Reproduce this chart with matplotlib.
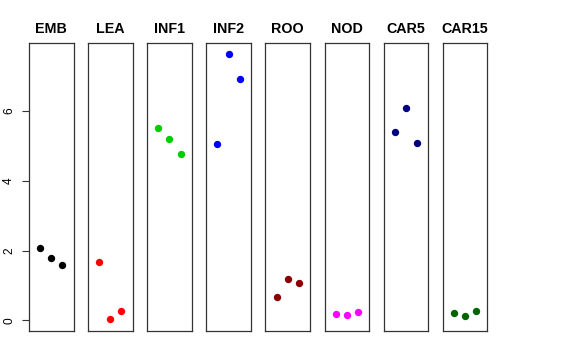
import matplotlib
matplotlib.use('Agg')
import matplotlib.pyplot as plt

plt.rcParams['font.family'] = ['Liberation Sans', 'DejaVu Sans']

tissues = ['EMB', 'LEA', 'INF1', 'INF2', 'ROO', 'NOD', 'CAR5', 'CAR15']
colors = ['black', 'red', '#00CD00', 'blue', '#8B0000', 'magenta', '#000080', '#006400']
reps = [1, 2, 3]
values = [
    [2.08, 1.80, 1.60],
    [1.67, 0.03, 0.28],
    [5.53, 5.19, 4.77],
    [5.06, 7.63, 6.92],
    [0.67, 1.20, 1.08],
    [0.19, 0.14, 0.24],
    [5.40, 6.08, 5.08],
    [0.21, 0.11, 0.26],
]

W, H = 576, 360
fig = plt.figure(figsize=(W / 100, H / 100), dpi=100)

ymin, ymax = 0.0, 7.65
pad = 0.04 * (ymax - ymin)

for i, (name, col, vals) in enumerate(zip(tissues, colors, values)):
    left = 29 + i * 59.1
    ax = fig.add_axes([left / W, 29 / H, 44.5 / W, 288 / H])
    ax.scatter(reps, vals, color=col, s=28, zorder=3, linewidths=0)
    ax.set_xlim(0, 4)
    ax.set_ylim(ymin - pad, ymax + pad)
    ax.set_xticks([])
    ax.set_title(name, fontsize=10.3, fontweight='bold', pad=7)
    for s in ax.spines.values():
        s.set_color('#333333')
        s.set_linewidth(0.9)
    if i == 0:
        ax.set_yticks([0, 2, 4, 6])
        ax.set_yticklabels(['0', '2', '4', '6'], rotation=90, va='center', fontsize=8.6)
        ax.tick_params(axis='y', length=5, width=0.8, pad=5, color='#333333')
    else:
        ax.set_yticks([])

fig.savefig('out.png', dpi=100)
